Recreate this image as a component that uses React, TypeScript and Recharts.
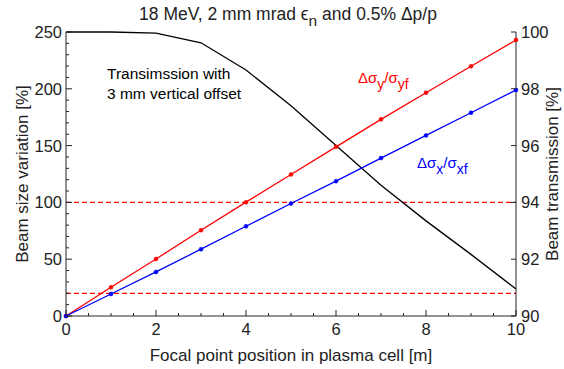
import React from 'react';
import {
  ComposedChart,
  Line,
  XAxis,
  YAxis,
  ReferenceLine,
} from 'recharts';

// focal point position in plasma cell [m]
const positions = [0, 1, 2, 3, 4, 5, 6, 7, 8, 9, 10];
// beam size variation [%]
const sigmaYVariation = [0, 25.3, 50.2, 75.5, 100.2, 124.6, 148.9, 173.1, 196.5, 219.8, 243.0];
const sigmaXVariation = [0, 19.4, 38.8, 58.8, 79.0, 99.0, 118.7, 139.0, 159.0, 178.9, 198.9];
// beam transmission with 3 mm vertical offset [%]
const transmission = [100, 100, 99.96, 99.62, 98.66, 97.4, 96.0, 94.6, 93.35, 92.17, 90.95];

const xTicks = [0, 0.5, 1, 1.5, 2, 2.5, 3, 3.5, 4, 4.5, 5, 5.5, 6, 6.5, 7, 7.5, 8, 8.5, 9, 9.5, 10];
const xMajor = [0, 2, 4, 6, 8, 10];
const leftTicks = [0, 10, 20, 30, 40, 50, 60, 70, 80, 90, 100, 110, 120, 130, 140, 150, 160, 170, 180, 190, 200, 210, 220, 230, 240, 250];
const leftMajor = [0, 50, 100, 150, 200, 250];
const rightTicks = [90, 92, 94, 96, 98, 100];
const thresholds = [100, 20];

const data = positions.map((p, i) => ({
  pos: p,
  sy: sigmaYVariation[i],
  sx: sigmaXVariation[i],
  tr: transmission[i],
}));

const INK = '#222';
const FONT = '"Liberation Sans", Arial, sans-serif';

const BottomTick = (props: any) => {
  const { x, y, payload } = props;
  const major = xMajor.includes(payload.value);
  return (
    <g>
      <line x1={x} y1={y} x2={x} y2={y - (major ? 6 : 3)} stroke={INK} />
      {major && (
        <text x={x} y={y + 19} textAnchor="middle" fontSize={16.5} fill={INK} fontFamily={FONT}>
          {payload.value}
        </text>
      )}
    </g>
  );
};

const TopTick = (props: any) => {
  const { x, y, payload } = props;
  const major = xMajor.includes(payload.value);
  return <line x1={x} y1={y} x2={x} y2={y + (major ? 6 : 3)} stroke={INK} />;
};

const LeftTick = (props: any) => {
  const { x, y, payload } = props;
  const major = leftMajor.includes(payload.value);
  return (
    <g>
      <line x1={x} y1={y} x2={x + (major ? 6 : 3)} y2={y} stroke={INK} />
      {major && (
        <text x={x - 4} y={y + 6} textAnchor="end" fontSize={16.5} fill={INK} fontFamily={FONT}>
          {payload.value}
        </text>
      )}
    </g>
  );
};

const RightTick = (props: any) => {
  const { x, y, payload } = props;
  return (
    <g>
      <line x1={x} y1={y} x2={x - 5} y2={y} stroke={INK} />
      <text x={x + 5} y={y + 6} textAnchor="start" fontSize={16.5} fill={INK} fontFamily={FONT}>
        {payload.value}
      </text>
    </g>
  );
};

export default function App() {
  return (
    <div style={{ position: 'absolute', left: 0, top: 0, width: 564, height: 369, background: '#fff' }}>
      <ComposedChart
        width={564}
        height={369}
        data={data}
        margin={{ top: 32, right: 8, bottom: 13, left: 8 }}
        style={{ fontFamily: FONT }}
      >
        <XAxis
          xAxisId="bottom"
          dataKey="pos"
          type="number"
          domain={[0, 10]}
          ticks={xTicks}
          interval={0}
          height={40}
          tickSize={0}
          tickMargin={0}
          tickLine={false}
          axisLine={{ stroke: INK }}
          tick={BottomTick}
        />
        <XAxis
          xAxisId="top"
          orientation="top"
          dataKey="pos"
          type="number"
          domain={[0, 10]}
          ticks={xTicks}
          interval={0}
          height={0}
          tickSize={0}
          tickMargin={0}
          tickLine={false}
          axisLine={{ stroke: INK }}
          tick={TopTick}
        />
        <YAxis
          yAxisId="left"
          type="number"
          domain={[0, 250]}
          ticks={leftTicks}
          interval={0}
          width={58}
          tickSize={0}
          tickMargin={0}
          tickLine={false}
          axisLine={{ stroke: INK }}
          tick={LeftTick}
        />
        <YAxis
          yAxisId="right"
          orientation="right"
          type="number"
          domain={[90, 100]}
          ticks={rightTicks}
          interval={0}
          width={40}
          tickSize={0}
          tickMargin={0}
          tickLine={false}
          axisLine={{ stroke: INK }}
          tick={RightTick}
        />
        {thresholds.map((t) => (
          <ReferenceLine
            key={t}
            xAxisId="bottom"
            yAxisId="left"
            y={t}
            stroke="#ff0000"
            strokeWidth={1.3}
            strokeDasharray="5 3"
          />
        ))}
        <Line
          xAxisId="bottom"
          yAxisId="right"
          dataKey="tr"
          stroke="#000"
          strokeWidth={1.3}
          dot={false}
          isAnimationActive={false}
        />
        <Line
          xAxisId="bottom"
          yAxisId="left"
          dataKey="sy"
          stroke="#ff0000"
          strokeWidth={1.3}
          dot={{ r: 2, fill: '#ff0000', stroke: '#ff0000', strokeWidth: 0.5 }}
          isAnimationActive={false}
        />
        <Line
          xAxisId="bottom"
          yAxisId="left"
          dataKey="sx"
          stroke="#0000ff"
          strokeWidth={1.3}
          dot={{ r: 2, fill: '#0000ff', stroke: '#0000ff', strokeWidth: 0.5 }}
          isAnimationActive={false}
        />
      </ComposedChart>
      <svg
        width={564}
        height={369}
        style={{ position: 'absolute', left: 0, top: 0, pointerEvents: 'none' }}
        fontFamily={FONT}
      >
        <text x={288} y={20} textAnchor="middle" fontSize={17.5} fill={INK}>
          18 MeV, 2 mm mrad {'\u03f5'}
          <tspan dy={6} fontSize={15.5}>n</tspan>
          <tspan dy={-6}> and 0.5% {'\u0394'}p/p</tspan>
        </text>
        <text x={291} y={361} textAnchor="middle" fontSize={17} fill={INK}>
          Focal point position in plasma cell [m]
        </text>
        <text x={28} y={174} textAnchor="middle" fontSize={17} fill={INK} transform="rotate(-90 28 174)">
          Beam size variation [%]
        </text>
        <text x={558} y={174} textAnchor="middle" fontSize={17} fill={INK} transform="rotate(-90 558 174)">
          Beam transmission [%]
        </text>
        <text x={107} y={79} fontSize={15.5} fill="#000">Transimssion with</text>
        <text x={107} y={99} fontSize={15.5} fill="#000">3 mm vertical offset</text>
        <text x={358} y={83} fontSize={15} fill="#ff0000">
          {'\u0394\u03c3'}
          <tspan dy={6} fontSize={14}>y</tspan>
          <tspan dy={-6}>/{'\u03c3'}</tspan>
          <tspan dy={6} fontSize={14}>yf</tspan>
        </text>
        <text x={417} y={168} fontSize={15} fill="#0000ff">
          {'\u0394\u03c3'}
          <tspan dy={6} fontSize={14}>x</tspan>
          <tspan dy={-6}>/{'\u03c3'}</tspan>
          <tspan dy={6} fontSize={14}>xf</tspan>
        </text>
      </svg>
    </div>
  );
}
